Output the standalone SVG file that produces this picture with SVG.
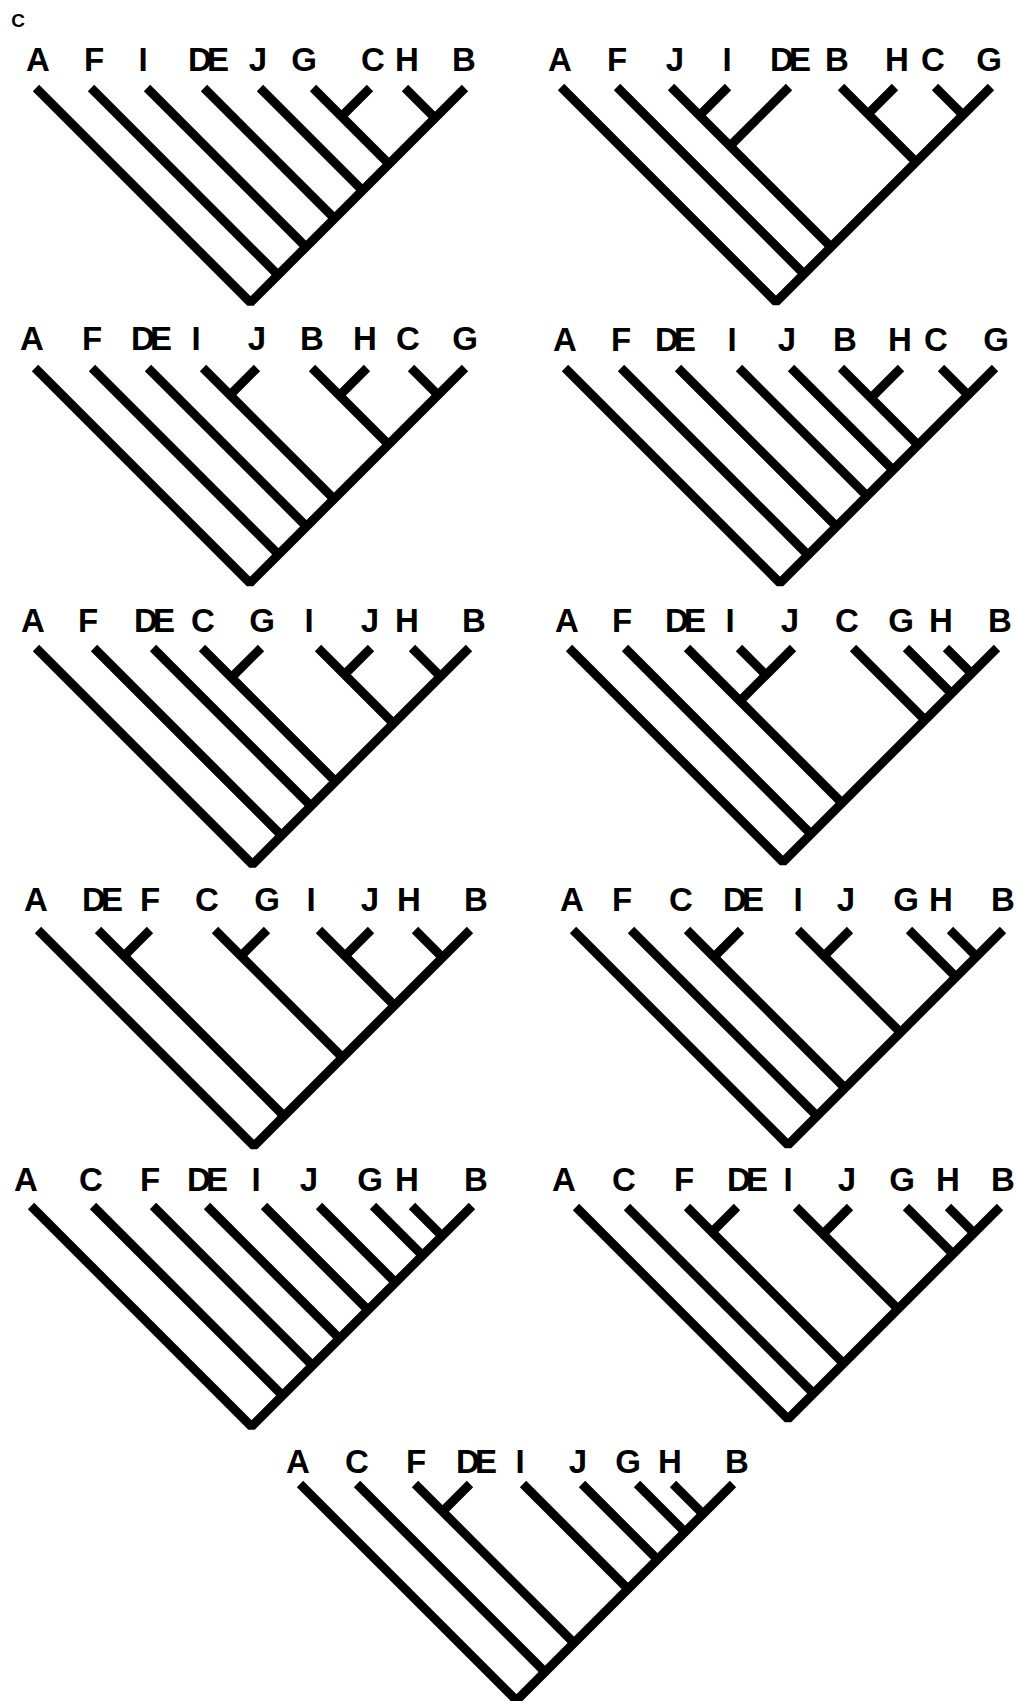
<svg xmlns="http://www.w3.org/2000/svg" width="1016" height="1701" viewBox="0 0 1016 1701">
<style>
.lbl{font-family:"Liberation Sans",Arial,Helvetica,sans-serif;font-weight:bold;font-size:33px;text-anchor:middle;fill:#000}
.de{letter-spacing:-5px}
.panel{font-family:"Liberation Sans",Arial,Helvetica,sans-serif;font-weight:bold;font-size:19px;text-anchor:middle;fill:#000}
.br{fill:none;stroke:#000;stroke-width:9;stroke-linecap:butt;stroke-linejoin:bevel}
</style>
<rect width="1016" height="1701" fill="#fff"/>
<text class="panel" x="18" y="27">C</text>

<g id="tree1">
<g id="t1-labels">
<text class="lbl" x="38" y="71">A</text><text class="lbl" x="94" y="71">F</text><text class="lbl" x="143" y="71">I</text><text class="lbl de" x="206" y="71">DE</text><text class="lbl" x="258" y="71">J</text><text class="lbl" x="304" y="71">G</text><text class="lbl" x="373" y="71">C</text><text class="lbl" x="407" y="71">H</text><text class="lbl" x="464" y="71">B</text>
</g>
<g id="t1-connectors" class="br">
<polyline points="313,88 341.5,116.5 370,88"/>
<polyline points="405,88 435,118 465,88"/>
<polyline points="341.5,116.5 389,164 435,118"/>
<polyline points="260,88 362.5,190.5 389,164"/>
<polyline points="204,88 334.5,218.5 362.5,190.5"/>
<polyline points="147,88 306,247 334.5,218.5"/>
<polyline points="91,88 278,275 306,247"/>
<polyline points="36,88 250.5,302.5 278,275"/>
</g>
</g>

<g id="tree2">
<g id="t2-labels">
<text class="lbl" x="560" y="71">A</text><text class="lbl" x="617" y="71">F</text><text class="lbl" x="675" y="71">J</text><text class="lbl" x="727" y="71">I</text><text class="lbl de" x="788" y="71">DE</text><text class="lbl" x="837" y="71">B</text><text class="lbl" x="897" y="71">H</text><text class="lbl" x="933" y="71">C</text><text class="lbl" x="989" y="71">G</text>
</g>
<g id="t2-connectors" class="br">
<polyline points="671,87 699.5,115.5 728,87"/>
<polyline points="699.5,115.5 730,146 789,87"/>
<polyline points="841,87 868,114 895,87"/>
<polyline points="935,87 963,115 991,87"/>
<polyline points="868,114 916,162 963,115"/>
<polyline points="730,146 831,247 916,162"/>
<polyline points="617,87 804,274 831,247"/>
<polyline points="561,87 776,302 804,274"/>
</g>
</g>

<g id="tree3">
<g id="t3-labels">
<text class="lbl" x="32" y="350">A</text><text class="lbl" x="92" y="350">F</text><text class="lbl de" x="149" y="350">DE</text><text class="lbl" x="196" y="350">I</text><text class="lbl" x="257" y="350">J</text><text class="lbl" x="312" y="350">B</text><text class="lbl" x="365" y="350">H</text><text class="lbl" x="408" y="350">C</text><text class="lbl" x="465" y="350">G</text>
</g>
<g id="t3-connectors" class="br">
<polyline points="203,368 230,395 257,368"/>
<polyline points="312,368 339.5,395.5 367,368"/>
<polyline points="411,368 438,395 465,368"/>
<polyline points="339.5,395.5 388.5,444.5 438,395"/>
<polyline points="230,395 334,499 388.5,444.5"/>
<polyline points="148,368 306.5,526.5 334,499"/>
<polyline points="92,368 278.5,554.5 306.5,526.5"/>
<polyline points="35,368 250,583 278.5,554.5"/>
</g>
</g>

<g id="tree4">
<g id="t4-labels">
<text class="lbl" x="565" y="351">A</text><text class="lbl" x="621" y="351">F</text><text class="lbl de" x="673" y="351">DE</text><text class="lbl" x="732" y="351">I</text><text class="lbl" x="787" y="351">J</text><text class="lbl" x="845" y="351">B</text><text class="lbl" x="900" y="351">H</text><text class="lbl" x="936" y="351">C</text><text class="lbl" x="996" y="351">G</text>
</g>
<g id="t4-connectors" class="br">
<polyline points="841,368 871,398 901,368"/>
<polyline points="941,368 968,395 995,368"/>
<polyline points="871,398 918,445 968,395"/>
<polyline points="791,368 893,470 918,445"/>
<polyline points="739,368 867,496 893,470"/>
<polyline points="678,368 836.5,526.5 867,496"/>
<polyline points="621,368 808,555 836.5,526.5"/>
<polyline points="565,368 780,583 808,555"/>
</g>
</g>

<g id="tree5">
<g id="t5-labels">
<text class="lbl" x="33" y="632">A</text><text class="lbl" x="88" y="632">F</text><text class="lbl de" x="152" y="632">DE</text><text class="lbl" x="203" y="632">C</text><text class="lbl" x="262" y="632">G</text><text class="lbl" x="309" y="632">I</text><text class="lbl" x="370" y="632">J</text><text class="lbl" x="407" y="632">H</text><text class="lbl" x="474" y="632">B</text>
</g>
<g id="t5-connectors" class="br">
<polyline points="202,648 231.5,677.5 261,648"/>
<polyline points="318,648 344.5,674.5 371,648"/>
<polyline points="412,648 440.5,676.5 469,648"/>
<polyline points="344.5,674.5 393.5,723.5 440.5,676.5"/>
<polyline points="231.5,677.5 335.5,781.5 393.5,723.5"/>
<polyline points="153,648 311,806 335.5,781.5"/>
<polyline points="94,648 281.5,835.5 311,806"/>
<polyline points="36,648 252.5,864.5 281.5,835.5"/>
</g>
</g>

<g id="tree6">
<g id="t6-labels">
<text class="lbl" x="567" y="632">A</text><text class="lbl" x="622" y="632">F</text><text class="lbl de" x="683" y="632">DE</text><text class="lbl" x="730" y="632">I</text><text class="lbl" x="790" y="632">J</text><text class="lbl" x="847" y="632">C</text><text class="lbl" x="901" y="632">G</text><text class="lbl" x="941" y="632">H</text><text class="lbl" x="1000" y="632">B</text>
</g>
<g id="t6-connectors" class="br">
<polyline points="739,648 766,675 793,648"/>
<polyline points="687,648 740,701 766,675"/>
<polyline points="946,648 971.5,673.5 997,648"/>
<polyline points="906,648 951.5,693.5 971.5,673.5"/>
<polyline points="853,648 925,720 951.5,693.5"/>
<polyline points="740,701 842,803 925,720"/>
<polyline points="625,648 811,834 842,803"/>
<polyline points="569,648 783,862 811,834"/>
</g>
</g>

<g id="tree7">
<g id="t7-labels">
<text class="lbl" x="36" y="911">A</text><text class="lbl de" x="100" y="911">DE</text><text class="lbl" x="150" y="911">F</text><text class="lbl" x="207" y="911">C</text><text class="lbl" x="267" y="911">G</text><text class="lbl" x="311" y="911">I</text><text class="lbl" x="370" y="911">J</text><text class="lbl" x="409" y="911">H</text><text class="lbl" x="476" y="911">B</text>
</g>
<g id="t7-connectors" class="br">
<polyline points="98,930 124,956 150,930"/>
<polyline points="215,930 241,956 267,930"/>
<polyline points="319,930 345,956 371,930"/>
<polyline points="415,930 442.5,957.5 470,930"/>
<polyline points="345,956 394.5,1005.5 442.5,957.5"/>
<polyline points="241,956 342.5,1057.5 394.5,1005.5"/>
<polyline points="124,956 284,1116 342.5,1057.5"/>
<polyline points="38,930 254,1146 284,1116"/>
</g>
</g>

<g id="tree8">
<g id="t8-labels">
<text class="lbl" x="572" y="911">A</text><text class="lbl" x="622" y="911">F</text><text class="lbl" x="681" y="911">C</text><text class="lbl de" x="741" y="911">DE</text><text class="lbl" x="798" y="911">I</text><text class="lbl" x="846" y="911">J</text><text class="lbl" x="906" y="911">G</text><text class="lbl" x="941" y="911">H</text><text class="lbl" x="1003" y="911">B</text>
</g>
<g id="t8-connectors" class="br">
<polyline points="687,930 714,957 741,930"/>
<polyline points="798,930 824,956 850,930"/>
<polyline points="950,930 976.5,956.5 1003,930"/>
<polyline points="909,930 956,977 976.5,956.5"/>
<polyline points="824,956 900.5,1032.5 956,977"/>
<polyline points="714,957 845,1088 900.5,1032.5"/>
<polyline points="631,930 817,1116 845,1088"/>
<polyline points="573,930 788,1145 817,1116"/>
</g>
</g>

<g id="tree9">
<g id="t9-labels">
<text class="lbl" x="26" y="1191">A</text><text class="lbl" x="91" y="1191">C</text><text class="lbl" x="150" y="1191">F</text><text class="lbl de" x="205" y="1191">DE</text><text class="lbl" x="256" y="1191">I</text><text class="lbl" x="309" y="1191">J</text><text class="lbl" x="370" y="1191">G</text><text class="lbl" x="407" y="1191">H</text><text class="lbl" x="476" y="1191">B</text>
</g>
<g id="t9-connectors" class="br">
<polyline points="412,1206 442,1236 472,1206"/>
<polyline points="373,1206 422.5,1255.5 442,1236"/>
<polyline points="319,1206 395.5,1282.5 422.5,1255.5"/>
<polyline points="264,1206 368,1310 395.5,1282.5"/>
<polyline points="207,1206 339.5,1338.5 368,1310"/>
<polyline points="153,1206 312.5,1365.5 339.5,1338.5"/>
<polyline points="93,1206 282.5,1395.5 312.5,1365.5"/>
<polyline points="31,1206 251.5,1426.5 282.5,1395.5"/>
</g>
</g>

<g id="tree10">
<g id="t10-labels">
<text class="lbl" x="564" y="1191">A</text><text class="lbl" x="624" y="1191">C</text><text class="lbl" x="684" y="1191">F</text><text class="lbl de" x="745" y="1191">DE</text><text class="lbl" x="788" y="1191">I</text><text class="lbl" x="847" y="1191">J</text><text class="lbl" x="902" y="1191">G</text><text class="lbl" x="948" y="1191">H</text><text class="lbl" x="1003" y="1191">B</text>
</g>
<g id="t10-connectors" class="br">
<polyline points="687,1207 712,1232 737,1207"/>
<polyline points="796,1207 823,1234 850,1207"/>
<polyline points="948,1207 974,1233 1000,1207"/>
<polyline points="906,1207 953,1254 974,1233"/>
<polyline points="823,1234 898,1309 953,1254"/>
<polyline points="712,1232 843.5,1363.5 898,1309"/>
<polyline points="627,1207 813.5,1393.5 843.5,1363.5"/>
<polyline points="576,1207 788,1419 813.5,1393.5"/>
</g>
</g>

<g id="tree11">
<g id="t11-labels">
<text class="lbl" x="298" y="1473">A</text><text class="lbl" x="357" y="1473">C</text><text class="lbl" x="416" y="1473">F</text><text class="lbl de" x="474" y="1473">DE</text><text class="lbl" x="520" y="1473">I</text><text class="lbl" x="578" y="1473">J</text><text class="lbl" x="628" y="1473">G</text><text class="lbl" x="670" y="1473">H</text><text class="lbl" x="737" y="1473">B</text>
</g>
<g id="t11-connectors" class="br">
<polyline points="415,1484 442.5,1511.5 470,1484"/>
<polyline points="673,1484 703,1514 733,1484"/>
<polyline points="637,1484 685,1532 703,1514"/>
<polyline points="582,1484 657.5,1559.5 685,1532"/>
<polyline points="523,1484 628,1589 657.5,1559.5"/>
<polyline points="442.5,1511.5 574,1643 628,1589"/>
<polyline points="357,1484 545,1672 574,1643"/>
<polyline points="300,1484 516.5,1700.5 545,1672"/>
</g>
</g>
</svg>
